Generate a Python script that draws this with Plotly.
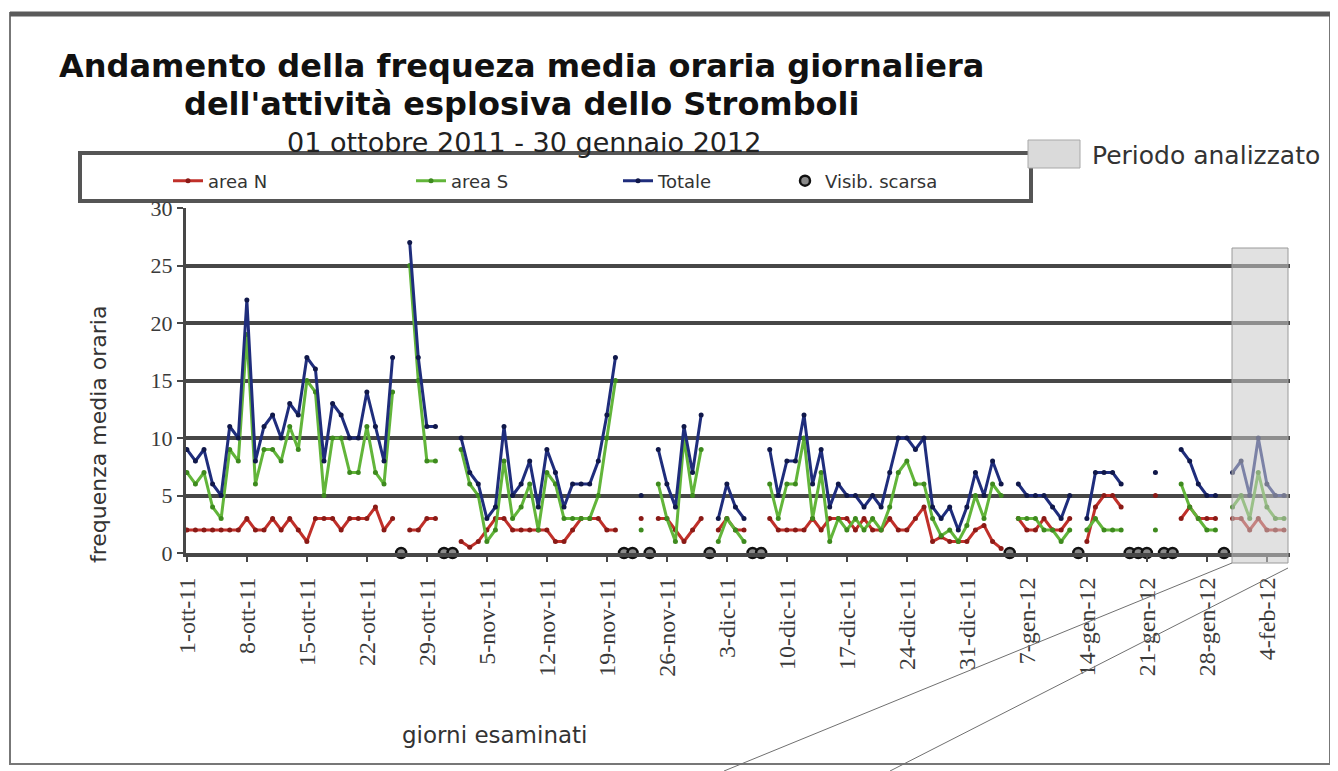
import pandas as pd
import plotly.graph_objects as go

# giorni esaminati: 1 ottobre 2011 -> 6 febbraio 2012 (129 giorni)
giorni = pd.date_range("2011-10-01", "2012-02-06", freq="D")

# frequenza media oraria (None = nessun dato)
area_n = [2, 2, 2, 2, 2, 2, 2,
          3, 2, 2, 3, 2, 3, 2,
          1, 3, 3, 3, 2, 3, 3,
          3, 4, 2, 3, None, 2, 2,
          3, 3, None, None, 1, 0.5, 1,
          2, 3, 3, 2, 2, 2, 2,
          2, 1, 1, 2, 3, 3, 3,
          2, 2, None, None, 3, None, 3,
          3, 2, 1, 2, 3, None, 2,
          3, 2, 2, None, None, 3, 2,
          2, 2, 2, 3, 2, 3, 3,
          3, 2, 3, 2, 2, 3, 2,
          2, 3, 4, 1, 1.4, 1, 1,
          1, 2, 2.4, 1, 0.4, None, 3,
          2, 2, 3, 2, 2, 3, None,
          1, 4, 5, 5, 4, None, None,
          None, 5, None, None, 3, 4, 3,
          3, 3, None, 3, 3, 2, 3,
          2, 2, 2]

area_s = [7, 6, 7, 4, 3, 9, 8,
          19, 6, 9, 9, 8, 11, 9,
          15, 14, 5, 10, 10, 7, 7,
          11, 7, 6, 14, None, 25, 15,
          8, 8, None, None, 9, 6, 5,
          1, 2, 8, 3, 4, 6, 2,
          7, 6, 3, 3, 3, 3, 5,
          10, 15, None, None, 2, None, 6,
          3, 1, 10, 5, 9, None, 1,
          3, 2, 1, None, None, 6, 3,
          6, 6, 10, 3, 7, 1, 3,
          2, 3, 2, 3, 2, 4, 7,
          8, 6, 6, 3, 1.5, 2, 1,
          2.4, 5, 3, 6, 5, None, 3,
          3, 3, 2, 2, 1, 2, None,
          2, 3, 2, 2, 2, None, None,
          None, 2, None, None, 6, 4, 3,
          2, 2, None, 4, 5, 3, 7,
          4, 3, 3]

totale = [9, 8, 9, 6, 5, 11, 10,
          22, 8, 11, 12, 10, 13, 12,
          17, 16, 8, 13, 12, 10, 10,
          14, 11, 8, 17, None, 27, 17,
          11, 11, None, None, 10, 7, 6,
          3, 4, 11, 5, 6, 8, 4,
          9, 7, 4, 6, 6, 6, 8,
          12, 17, None, None, 5, None, 9,
          6, 4, 11, 7, 12, None, 3,
          6, 4, 3, None, None, 9, 5,
          8, 8, 12, 6, 9, 4, 6,
          5, 5, 4, 5, 4, 7, 10,
          10, 9, 10, 4, 3, 4, 2,
          4, 7, 5, 8, 6, None, 6,
          5, 5, 5, 4, 3, 5, None,
          3, 7, 7, 7, 6, None, None,
          None, 7, None, None, 9, 8, 6,
          5, 5, None, 7, 8, 5, 10,
          6, 5, 5]

visib_scarsa = ["2011-10-26", "2011-10-31", "2011-11-01", "2011-11-21", "2011-11-22",
                "2011-11-24", "2011-12-01", "2011-12-06", "2011-12-07", "2012-01-05",
                "2012-01-13", "2012-01-19", "2012-01-20", "2012-01-21", "2012-01-23",
                "2012-01-24", "2012-01-30"]
visib_valore = [0] * len(visib_scarsa)

tick_date = pd.date_range("2011-10-01", periods=19, freq="7D")
tick_label = ["1-ott-11", "8-ott-11", "15-ott-11", "22-ott-11", "29-ott-11",
              "5-nov-11", "12-nov-11", "19-nov-11", "26-nov-11", "3-dic-11",
              "10-dic-11", "17-dic-11", "24-dic-11", "31-dic-11", "7-gen-12",
              "14-gen-12", "21-gen-12", "28-gen-12", "4-feb-12"]

# the page body adds an 8px margin, so the figure is drawn 8px smaller
OFF = 8
W, H = 1338 - OFF, 771 - OFF
L, R, T, B = 186 - OFF, 48, 208 - OFF, 218
PW, PH = W - L - R, H - T - B


def px(x):
    return (x - OFF - L) / PW


def py(y):
    return (H - B - (y - OFF)) / PH


SANS = "DejaVu Sans, Liberation Sans, sans-serif"
SERIF = "Liberation Serif, Times New Roman, serif"
GRID = "#474747"

fig = go.Figure()
fig.add_trace(go.Scatter(x=giorni, y=area_n, name="area N", mode="lines+markers",
                         legendwidth=198,
                         line=dict(color="#c0302a", width=3),
                         marker=dict(color="#8a1a16", size=5)))
fig.add_trace(go.Scatter(x=giorni, y=area_s, name="area S", mode="lines+markers",
                         legendwidth=162,
                         line=dict(color="#62b53a", width=3),
                         marker=dict(color="#3e8a1e", size=5)))
fig.add_trace(go.Scatter(x=giorni, y=totale, name="Totale", mode="lines+markers",
                         legendwidth=122,
                         line=dict(color="#1f2d7c", width=3),
                         marker=dict(color="#10184a", size=5)))
fig.add_trace(go.Scatter(x=visib_scarsa, y=visib_valore, name="Visib. scarsa", mode="markers",
                         cliponaxis=False,
                         marker=dict(color="#8a8a8a", size=10, line=dict(color="#111111", width=2.5))))

shapes = [
    # cornice esterna
    dict(type="rect", xref="paper", yref="paper", x0=px(10), x1=px(1330), y0=py(764), y1=py(13),
         line=dict(color="#777777", width=2), layer="below"),
    dict(type="line", xref="paper", yref="paper", x0=px(10), x1=px(1330), y0=py(14), y1=py(14),
         line=dict(color="#5a5a5a", width=5)),
    # riquadro legenda
    dict(type="rect", xref="paper", yref="paper", x0=px(80), x1=px(1031), y0=py(201), y1=py(153),
         line=dict(color="#555555", width=4), fillcolor="white", layer="below"),
    # periodo analizzato (legenda)
    dict(type="rect", xref="paper", yref="paper", x0=px(1028), x1=px(1080), y0=py(168), y1=py(140),
         line=dict(color="#a8a8a8", width=1), fillcolor="#dadada"),
    # periodo analizzato (area)
    dict(type="rect", xref="paper", yref="paper", x0=px(1232), x1=px(1288), y0=py(563), y1=py(248),
         line=dict(color="#9a9a9a", width=1), fillcolor="rgba(200,200,200,0.55)", layer="above"),
    # linee di richiamo
    dict(type="line", xref="paper", yref="paper", x0=px(1232), x1=px(724), y0=py(563), y1=py(771),
         line=dict(color="#707070", width=1)),
    dict(type="line", xref="paper", yref="paper", x0=px(1288), x1=px(890), y0=py(568), y1=py(771),
         line=dict(color="#707070", width=1)),
]

annotations = [
    dict(text="<b>Andamento della frequeza media oraria giornaliera</b>", x=px(521), y=py(66),
         font=dict(family=SANS, size=32, color="#111111")),
    dict(text="<b>dell'attività esplosiva dello Stromboli</b>", x=px(522), y=py(104),
         font=dict(family=SANS, size=32, color="#111111")),
    dict(text="01 ottobre 2011 - 30 gennaio 2012", x=px(524), y=py(142),
         font=dict(family=SANS, size=27, color="#222222")),
    dict(text="Periodo analizzato", x=px(1090), y=py(156), xanchor="left",
         font=dict(family=SANS, size=25, color="#333333")),
    dict(text="frequenza media oraria", x=px(98), y=py(435), textangle=-90,
         font=dict(family=SANS, size=22, color="#333333")),
    dict(text="giorni esaminati", x=px(495), y=py(735),
         font=dict(family=SANS, size=23, color="#333333")),
]
for a in annotations:
    a.update(xref="paper", yref="paper", showarrow=False)
    a.setdefault("xanchor", "center")
    a.setdefault("yanchor", "middle")

fig.update_layout(
    width=W, height=H,
    margin=dict(l=L, r=R, t=T, b=B, autoexpand=False),
    paper_bgcolor="white", plot_bgcolor="white",
    showlegend=True,
    legend=dict(orientation="h", x=px(168), y=py(181), xanchor="left", yanchor="middle",
                bgcolor="rgba(0,0,0,0)", borderwidth=0,
                font=dict(family=SANS, size=18, color="#333333")),
    shapes=shapes,
    annotations=annotations,
    xaxis=dict(type="date", range=["2011-09-30 21:36", "2012-02-06 16:48"],
               tickvals=tick_date, ticktext=tick_label, tickangle=-90,
               ticks="outside", ticklen=5, tickwidth=2, tickcolor=GRID,
               ticklabelstandoff=6,
               showgrid=False, showline=True, linecolor=GRID, linewidth=4, zeroline=False,
               tickfont=dict(family=SERIF, size=24, color="#3a3a3a")),
    yaxis=dict(range=[0, 30], tickvals=[0, 5, 10, 15, 20, 25, 30],
               ticks="outside", ticklen=6, tickwidth=2, tickcolor=GRID,
               showgrid=True, gridcolor=GRID, gridwidth=4,
               showline=True, linecolor=GRID, linewidth=3, zeroline=False,
               tickfont=dict(family=SERIF, size=22, color="#3a3a3a")),
)

fig.write_html("out.html")
